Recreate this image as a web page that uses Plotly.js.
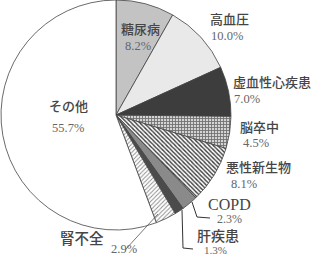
<!DOCTYPE html>
<html><head><meta charset="utf-8">
<script src="https://cdn.plot.ly/plotly-3.0.1.min.js"></script>
<style>html,body{margin:0;padding:0;background:#fff}#c{width:311px;height:255px}</style>
</head><body><div id="c"></div>
<script>
const categories = ["糖尿病","高血圧","虚血性心疾患","脳卒中","悪性新生物","COPD","肝疾患","腎不全","その他"];
const values = [8.2,10.0,7.0,4.5,8.1,2.3,1.3,2.9,55.7];
const pctLabels = ["8.2%","10.0%","7.0%","4.5%","8.1%","2.3%","1.3%","2.9%","55.7%"];

const fill = ["#c3c3c3","#e9e9e9","#3d3d3d","#d4d4d4","#ffffff","#8a8a8a","#4b4b4b","#ffffff","#ffffff"];
const pShape = ["","","","+","\\","","","/",""];
const pFg = ["#000","#000","#000","#707070","#3a3a3a","#000","#000","#8a8a8a","#000"];
const pBg = fill;
const pSize = [4,4,4,3,3,4,4,3,4];
const pSol = [0.3,0.3,0.3,0.5,0.45,0.3,0.3,0.3,0.3];

const W=311,H=255;
const px = x=>x/W, py = y=>1-y/H;

const jp = "Noto Sans CJK JP, Noto Sans, sans-serif";
const serif = "Liberation Serif, DejaVu Serif, serif";
const labelPos = [
 {n:[140,28],p:[138,46],ns:13,ps:12.5},
 {n:[229,19],p:[227,36],ns:13,ps:12.5},
 {n:[272,82],p:[247,99],ns:13,ps:12.5},
 {n:[259,126],p:[256,143],ns:13,ps:12.5},
 {n:[258,166],p:[244,184],ns:13,ps:12.5},
 {n:[229,204],p:[229,219],ns:16,ps:12,serif:true},
 {n:[218,235],p:[215,250],ns:14,ps:11},
 {n:[82,237],p:[124,249],ns:14.5,ps:12.5},
 {n:[68,105],p:[68,128],ns:13,ps:12.5}
];
const ann=[];
categories.forEach((c,i)=>{
  const L=labelPos[i];
  ann.push({text:c,x:px(L.n[0]),y:py(L.n[1]),xref:'paper',yref:'paper',showarrow:false,xanchor:'center',yanchor:'middle',
    font:{family:L.serif?serif:jp,size:L.ns,color:'#454545',weight:500}});
  ann.push({text:pctLabels[i],x:px(L.p[0]),y:py(L.p[1]),xref:'paper',yref:'paper',showarrow:false,xanchor:'center',yanchor:'middle',
    font:{family:serif,size:L.ps,color:'#666'}});
});
function path(pts){return 'M'+pts.map(p=>px(p[0])+','+py(p[1])).join(' L');}
const lineStyle={color:'#333',width:1};
const shapes=[
 {type:'path',xref:'paper',yref:'paper',path:path([[192,202],[197,217],[210,218]]),line:lineStyle},
 {type:'path',xref:'paper',yref:'paper',path:path([[182,210],[183,248],[193,249]]),line:lineStyle},
 {type:'path',xref:'paper',yref:'paper',path:path([[158,214],[125,250]]),line:{color:'#555',width:0.8}}
];

Plotly.newPlot('c',[{
  type:'pie',labels:categories,values:values,sort:false,direction:'clockwise',rotation:0,
  textinfo:'none',hoverinfo:'none',
  domain:{x:[px(1),px(231)],y:[py(230),py(0)]},
  marker:{colors:fill,line:{color:'#444',width:0.8},
    pattern:{shape:pShape,fgcolor:pFg,bgcolor:pBg,size:pSize,solidity:pSol}}
}],{
  width:W,height:H,margin:{l:0,r:0,t:0,b:0},showlegend:false,
  paper_bgcolor:'#fff',annotations:ann,shapes:shapes
},{staticPlot:true});
</script></body></html>
